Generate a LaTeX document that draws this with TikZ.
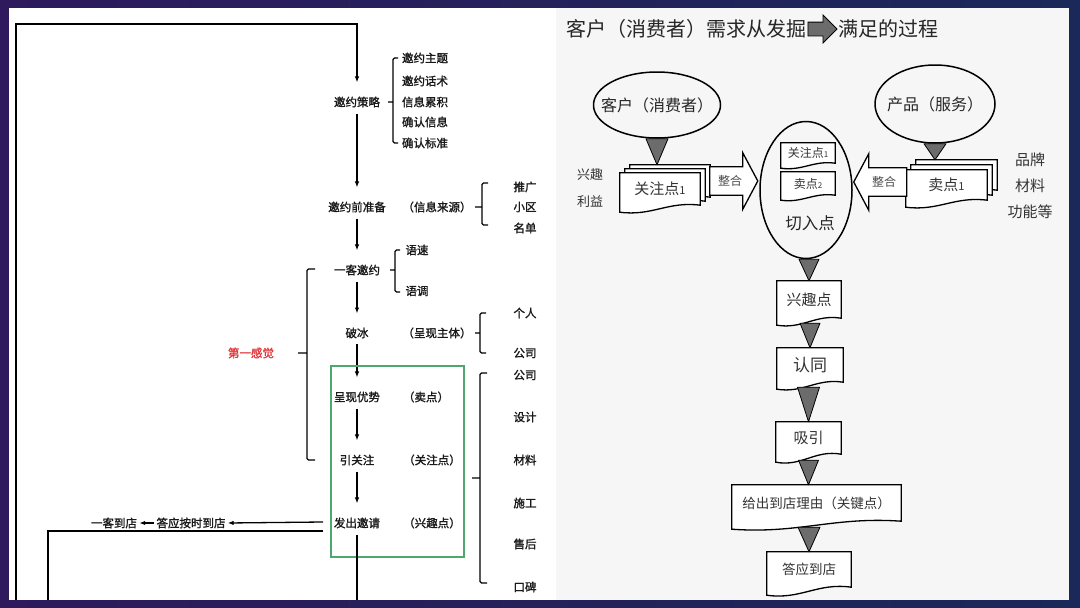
\documentclass[tikz,border=0pt]{standalone}
\usepackage{fontspec}
\setmainfont{Noto Sans CJK SC}
\newfontfamily\heavycjk[FakeBold=1.5]{Noto Sans CJK SC}
\usepackage{tikz}
\usetikzlibrary{shapes.geometric, shapes.arrows, arrows.meta, positioning, calc}
\usepackage{xcolor}

\definecolor{framel}{RGB}{46,26,92}
\definecolor{framer}{RGB}{26,40,90}
\definecolor{panelgray}{RGB}{246,246,246}
\definecolor{boxgreen}{RGB}{76,168,108}
\definecolor{firstred}{RGB}{226,52,56}
\definecolor{trigray}{RGB}{108,108,108}

\pgfdeclarelayer{bg}
\pgfsetlayers{bg,main}

% Dokument-Form mit welliger Unterkante
\newcommand{\docshape}[2][7]{%
  \begin{pgfonlayer}{bg}
    \draw[docline] ($(#2.south west)+(0,#1)$) -- (#2.north west) -- (#2.north east) -- (#2.south east)
      .. controls ($(#2.south east)!0.4!(#2.south west)+(0,-0.6*#1)$)
      and ($(#2.south west)!0.4!(#2.south east)+(0,1.6*#1)$) .. ($(#2.south west)+(0,#1)$) -- cycle;
  \end{pgfonlayer}}

\begin{document}
\begin{tikzpicture}[x=1pt, y=-1pt,
      lbl/.style={font=\heavycjk\fontsize{11.5pt}{13pt}\selectfont, text=black!90,
                  inner xsep=2pt, inner ysep=6pt},
      chain/.style={line width=1.3pt, -{Latex[length=6pt,width=4.5pt]}, shorten >=8pt},
      flow/.style={line width=1.3pt, -{Latex[length=6pt,width=4.5pt]}},
      line/.style={line width=1.3pt},
      brk/.style={line width=1.4pt, rounded corners=1.5pt},
      title/.style={font=\fontsize{20pt}{22pt}\selectfont, text=black!85, inner sep=1pt},
      ell/.style={draw, ellipse, line width=1.5pt, inner xsep=-14pt, inner ysep=0pt,
                  font=\fontsize{16pt}{18pt}\selectfont, text=black!85},
      bigtxt/.style={font=\fontsize{16.5pt}{18pt}\selectfont, text=black!85},
      side/.style={font=\fontsize{13pt}{15pt}\selectfont, text=black!80},
      doc/.style={inner sep=0pt, text=black!80, font=\fontsize{15pt}{17pt}\selectfont},
      docline/.style={draw, fill=white, line width=1.3pt},
      merge/.style={draw, fill=white, single arrow, line width=1.3pt,
                    single arrow head extend=14pt, single arrow tip angle=124, inner ysep=8pt,
                    font=\fontsize{12pt}{12pt}\selectfont, text=black!70},
      tri/.style={draw, fill=trigray, line width=0.8pt, line join=round}
    ]
    % Rahmen
    \begin{pgfonlayer}{bg}
      \shade[left color=framel, right color=framer] (0,0) rectangle (1080,608);
      \fill[white] (9,8) rectangle (556,600);
      \fill[panelgray] (556,8) rectangle (1069,600);
    \end{pgfonlayer}

    % Hauptkette
    \node[lbl] (strategy)  at (357,102) {邀约策略};
    \node[lbl] (prep)      at (357,207) {邀约前准备};
    \node[lbl] (oneinvite) at (357,270) {一客邀约};
    \node[lbl] (icebreak)  at (357,333) {破冰};
    \node[lbl] (advantage) at (357,397) {呈现优势};
    \node[lbl] (attention) at (357,460) {引关注};
    \node[lbl] (invite)    at (357,523) {发出邀请};

    \draw[chain] (strategy)  -- (prep);
    \draw[chain] (prep)      -- (oneinvite);
    \draw[chain] (oneinvite) -- (icebreak);
    \draw[chain] (icebreak)  -- (advantage);
    \draw[chain] (advantage) -- (attention);
    \draw[chain] (attention) -- (invite);

    % Schleife oben
    \coordinate (loopstart)  at (16,600);
    \coordinate (loopcorner) at (357,24);
    \draw[chain] (loopstart) |- (loopcorner) -- (strategy);

    % Ergaenzungen
    \node[lbl] (source)     at (437,207) {（信息来源）};
    \node[lbl] (subject)    at (437,333) {（呈现主体）};
    \node[lbl] (sellpt)     at (426,397) {（卖点）};
    \node[lbl] (focuspt)    at (432,460) {（关注点）};
    \node[lbl] (interestpt) at (432,523) {（兴趣点）};

    % Listen
    \node[lbl] (topic)    at (425,58)  {邀约主题};
    \node[lbl] (script)   at (425,81)  {邀约话术};
    \node[lbl] (collect)  at (425,102) {信息累积};
    \node[lbl] (confirm)  at (425,122) {确认信息};
    \node[lbl] (standard) at (425,143) {确认标准};
    \node[lbl] (promo)    at (525,187) {推广};
    \node[lbl] (estate)   at (525,207) {小区};
    \node[lbl] (namelist) at (525,228) {名单};
    \node[lbl] (speed)    at (417,250) {语速};
    \node[lbl] (tone)     at (417,291) {语调};
    \node[lbl] (person)   at (525,313) {个人};
    \node[lbl] (company)  at (525,353) {公司};
    \node[lbl] (company2) at (525,375) {公司};
    \node[lbl] (design)   at (525,417) {设计};
    \node[lbl] (material) at (525,460) {材料};
    \node[lbl] (build)    at (525,503) {施工};
    \node[lbl] (service)  at (525,544) {售后};
    \node[lbl] (praise)   at (525,587) {口碑};
    \node[lbl, text=firstred] (firstfeel) at (251,353) {第一感觉};

    % Klammern
    \draw[brk] (398,58)  -| (393,143) -- (398,143) (393,102) -- (388,102);
    \draw[brk] (488,183) -| (482,225) -- (488,225) (482,207) -- (475,207);
    \draw[brk] (400,250) -| (395,292) -- (400,292) (395,270) -- (390,270);
    \draw[brk] (486,313) -| (480,353) -- (486,353) (480,333) -- (475,333);
    \draw[brk] (487,373) -| (480,583) -- (487,583) (480,478) -- (472,478);
    \draw[brk] (315,269) -| (307,460) -- (315,460) (307,353) -- (298,353);

    % Rahmen gruen
    \draw[boxgreen, line width=1.8pt] (331,366) rectangle (464,557);

    % Rueckmeldung
    \node[lbl] (ontime) at (191,523) {答应按时到店};
    \node[lbl] (arrive) at (114,523) {一客到店};
    \coordinate (replyA)  at (323,522);
    \coordinate (replyB)  at (323,531);
    \coordinate (backend) at (48,600);
    \coordinate (downend) at (357,600);
    \draw[flow] (replyA) -- (ontime.east);
    \draw[flow] (ontime) -- (arrive);
    \draw[line] (replyB) -| (backend);
    \draw[line] (invite) -- (downend);

    % Titel
    \node[single arrow, draw, fill=trigray, line width=0.8pt, inner sep=6.5pt,
          single arrow head extend=7pt, single arrow tip angle=90, minimum height=29pt]
          (titlearrow) at (819,29) {};
    \node[title, anchor=east] (titleA) at (titlearrow.west) {客户（消费者）需求从发掘};
    \node[title, anchor=west] (titleB) at (titlearrow.east) {满足的过程};

    % Ellipsen
    \node[ell, minimum width=127pt, minimum height=66pt] (customer) at (657,105) {客户（消费者）};
    \node[ell, minimum width=120pt, minimum height=78pt] (product)  at (935,104) {产品（服务）};
    \node[ell, minimum width=92pt, minimum height=137pt] (cut) at (806,190) {};
    \node[bigtxt] (cuttxt) at (810,223) {切入点};

    % Blockpfeile
    \node[merge, inner xsep=4.5pt, minimum height=48pt] (mergeL) at (730,181) {整合};
    \node[merge, inner xsep=6.5pt, minimum height=53pt, shape border rotate=180] (mergeR) at (884,182) {整合};

    % Stapel links und rechts
    \node[doc, minimum width=80pt, minimum height=32pt] (focusback)  at (670,181) {};
    \node[doc, minimum width=80pt, minimum height=32pt] (focusmid)   at (665,185) {};
    \node[doc, minimum width=80pt, minimum height=32pt] (focusfront) at (660,189)
         {关注点{\fontsize{11pt}{11pt}\selectfont 1}};
    \docshape{focusback} \docshape{focusmid} \docshape{focusfront}
    \node[doc, minimum width=81pt, minimum height=30pt] (sellback)  at (956.5,175) {};
    \node[doc, minimum width=81pt, minimum height=30pt] (sellmid)   at (951.5,180) {};
    \node[doc, minimum width=81pt, minimum height=30pt] (sellfront) at (946.5,185)
         {卖点{\fontsize{11pt}{11pt}\selectfont 1}};
    \docshape{sellback} \docshape{sellmid} \docshape{sellfront}

    % im Schnittpunkt
    \node[doc, minimum width=54pt, minimum height=20pt, font=\fontsize{12pt}{13pt}\selectfont]
         (cutfocus) at (808,153) {关注点{\fontsize{8pt}{8pt}\selectfont 1}};
    \node[doc, minimum width=54pt, minimum height=23pt, font=\fontsize{12pt}{13pt}\selectfont]
         (cutsell) at (808,183.5) {卖点{\fontsize{8pt}{8pt}\selectfont 2}};
    \docshape[5]{cutfocus} \docshape[5]{cutsell}

    \node[side] (hobby)   at (590,175)  {兴趣};
    \node[side] (benefit) at (590,202)  {利益};
    \node[side, font=\fontsize{15pt}{17pt}\selectfont] (brand)  at (1030,160) {品牌};
    \node[side, font=\fontsize{15pt}{17pt}\selectfont] (stuff)  at (1030,186) {材料};
    \node[side, font=\fontsize{15pt}{17pt}\selectfont] (func)   at (1030,212) {功能等};

    % Ablauf
    \node[doc, minimum width=64pt, minimum height=37pt] (interest) at (809,299.5) {兴趣点};
    \node[doc, minimum width=66pt, minimum height=34pt, font=\fontsize{17pt}{19pt}\selectfont]
         (agree) at (810,365) {认同};
    \node[doc, minimum width=65pt, minimum height=32pt] (attract) at (808.5,438) {吸引};
    \node[doc, minimum width=169pt, minimum height=36pt, font=\fontsize{13.5pt}{15pt}\selectfont]
         (reason) at (816.5,503) {给出到店理由（关键点）};
    \node[doc, minimum width=84pt, minimum height=35pt, font=\fontsize{13.5pt}{15pt}\selectfont]
         (promise) at (809,569.5) {答应到店};
    \docshape{interest} \docshape{agree} \docshape[8]{attract} \docshape[8]{reason} \docshape[8]{promise}

    % Dreiecke
    \draw[tri] ($(customer.south)+(-11,0)$) -- ($(customer.south)+(11,0)$) -- (customer.south |- focusback.north) -- cycle;
    \draw[tri] ($(product.south)+(-11,0)$) -- ($(product.south)+(11,0)$) -- (product.south |- sellback.north) -- cycle;
    \draw[tri] ($(interest.north |- cut.south)+(-10,0)$) -- ($(interest.north |- cut.south)+(10,0)$) -- (interest.north) -- cycle;
    \draw[tri] ($(agree.north |- interest.south)+(-10,5)$) -- ($(agree.north |- interest.south)+(10,5)$) -- (agree.north) -- cycle;
    \draw[tri] ($(attract.north |- agree.south)+(-11,5)$) -- ($(attract.north |- agree.south)+(11,5)$) -- (attract.north) -- cycle;
    \draw[tri] ($(attract.south)+(-10,6)$) -- ($(attract.south)+(10,6)$) -- (attract.south |- reason.north) -- cycle;
    \draw[tri] ($(promise.north |- reason.south)+(-11,6)$) -- ($(promise.north |- reason.south)+(11,6)$) -- (promise.north) -- cycle;
  \end{tikzpicture}
\end{document}
